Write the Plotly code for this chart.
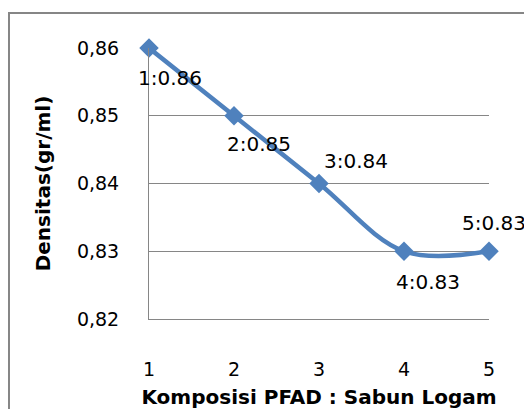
import plotly.graph_objects as go

komposisi = [1, 2, 3, 4, 5]
densitas = [0.86, 0.85, 0.84, 0.83, 0.83]
y_ticks = [0.82, 0.83, 0.84, 0.85, 0.86]
x_ticks = [1, 2, 3, 4, 5]
label_shift_x = [21, 25, 37, 24, 5]
label_shift_y = [-30, -28, 23, -31, 28]

BLUE = "#4F81BD"
GRID = "#868686"
FONT = "DejaVu Sans"

fig = go.Figure()
fig.add_trace(go.Scatter(
    x=komposisi, y=densitas, mode="lines+markers",
    line=dict(color=BLUE, width=4.5, shape="spline", smoothing=1),
    marker=dict(symbol="diamond", size=15, color=BLUE),
    cliponaxis=False, showlegend=False, hoverinfo="skip",
))

for xv, yv, sx, sy in zip(komposisi, densitas, label_shift_x, label_shift_y):
    fig.add_annotation(
        x=xv, y=yv, xref="x", yref="y", text=f"{xv}:{yv:.2f}",
        showarrow=False, xshift=sx, yshift=sy,
        font=dict(family=FONT, size=20, color="#000000"),
    )

# outer chart border (top and left visible)
fig.add_shape(type="rect", xref="paper", yref="paper",
              x0=-0.4118, x1=1.3, y0=-0.5, y1=1.129,
              line=dict(color=GRID, width=2), layer="below")

fig.update_layout(
    width=524, height=401,
    margin=dict(l=141, r=43, t=40, b=90, autoexpand=False),
    paper_bgcolor="white", plot_bgcolor="white",
    separators=",.",
    font=dict(family=FONT, size=19, color="#000000"),
    xaxis=dict(
        range=[1, 5], tickvals=x_ticks, ticks="", showgrid=False,
        showline=True, linecolor=GRID, linewidth=1, zeroline=False,
        ticklabelstandoff=33,
        title=dict(text="<b>Komposisi PFAD : Sabun Logam</b>",
                   font=dict(family=FONT, size=20), standoff=12),
    ),
    yaxis=dict(
        range=[0.82, 0.86], tickvals=y_ticks, tickformat=".2f",
        ticks="", showgrid=True, gridcolor=GRID, gridwidth=1,
        showline=True, linecolor=GRID, linewidth=1, zeroline=False,
        ticklabelstandoff=25,
        title=dict(text="<b>Densitas(gr/ml)</b>",
                   font=dict(family=FONT, size=20), standoff=20),
    ),
)

fig.write_html("out.html")
